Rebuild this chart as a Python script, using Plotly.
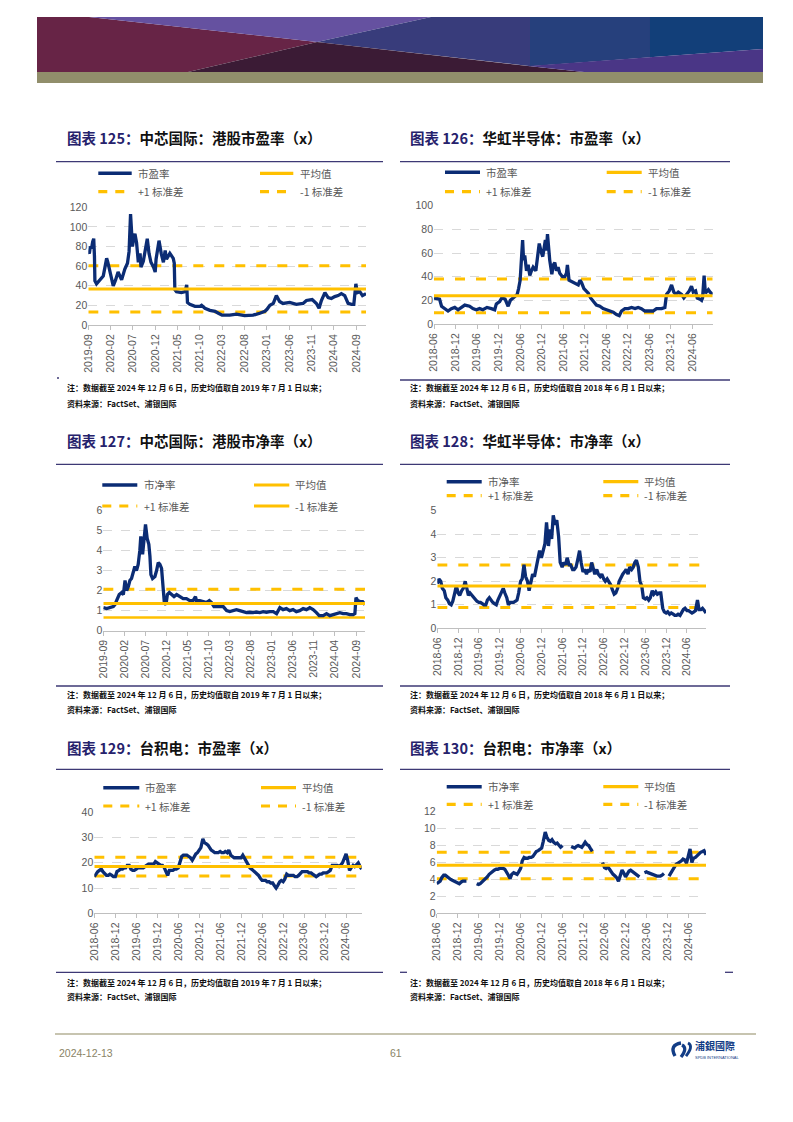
import pandas as pd
import plotly.graph_objects as go

# ---------------- data ----------------
# 图表125 中芯国际 港股市盈率
smic_pe_dates = ["2019-09-01","2019-09-08","2019-09-15","2019-09-23","2019-10-01","2019-10-08","2019-10-13","2019-10-16","2019-10-27","2019-11-19",
 "2019-12-12","2019-12-25","2020-01-04","2020-01-12","2020-01-22","2020-02-07","2020-02-18","2020-03-05","2020-03-22","2020-04-15",
 "2020-05-07","2020-05-25","2020-06-05","2020-06-15","2020-06-22","2020-06-28","2020-07-08","2020-07-15","2020-07-26","2020-08-07",
 "2020-08-19","2020-08-25","2020-09-10","2020-09-22","2020-10-07","2020-10-19","2020-11-01","2020-11-19","2020-11-30","2020-12-06",
 "2020-12-26","2021-01-10","2021-01-25","2021-02-06","2021-02-15","2021-03-10","2021-04-02","2021-04-09","2021-04-13","2021-04-24",
 "2021-05-28","2021-06-21","2021-06-28","2021-07-03","2021-07-08","2021-07-24","2021-08-28",
 "2021-10-01","2021-10-12","2021-11-04","2021-12-08","2022-01-12","2022-02-04","2022-03-01","2022-04-22","2022-06-07","2022-08-01",
 "2022-09-28","2022-11-13","2022-12-18","2023-01-01","2023-01-21","2023-02-13","2023-03-06","2023-03-28","2023-04-20","2023-06-05",
 "2023-07-20","2023-09-04","2023-09-27","2023-11-05","2023-12-04","2023-12-22","2024-01-07","2024-01-31","2024-02-22","2024-03-15",
 "2024-04-07","2024-04-30","2024-05-22","2024-06-14","2024-07-07","2024-07-30","2024-08-15","2024-08-29","2024-09-07","2024-09-25",
 "2024-10-13","2024-11-06"]
smic_pe = [75, 73, 80, 78, 85, 88, 70, 45, 42, 46,
 50, 60, 68, 64, 58, 45, 40, 46, 54, 46,
 57, 63, 75, 113, 85, 80, 90, 93, 84, 64,
 73, 59, 65, 75, 88, 73, 64, 59, 54, 67,
 86, 73, 64, 76, 67, 73, 68, 63, 36, 34,
 33, 34, 38, 41, 23, 21, 19,
 19, 20, 17, 15, 14, 12, 10, 10, 11, 9.5,
 10, 12, 14, 16, 20, 22, 30, 24, 22, 23,
 21, 22, 25, 26, 22, 17, 25, 33, 28, 27,
 29, 30, 32, 30, 22, 21, 21, 42, 33, 34,
 30, 32]
smic_pe_mean, smic_pe_up, smic_pe_dn = 36.7, 60.5, 13.3

# 图表126 华虹半导体 市盈率
hh_pe_dates = ["2018-06-01","2018-07-18","2018-08-04","2018-08-31","2018-09-28","2018-10-26","2018-11-24","2018-12-22","2019-01-20","2019-02-17",
 "2019-03-30","2019-04-27","2019-05-25","2019-06-23","2019-07-21","2019-08-25","2019-10-01","2019-10-29","2019-11-12","2019-12-10",
 "2019-12-28","2020-01-25","2020-02-20","2020-03-10","2020-04-02","2020-05-07","2020-05-19","2020-06-01","2020-06-22","2020-06-30",
 "2020-07-10","2020-07-25","2020-08-08","2020-08-22","2020-09-05","2020-09-19","2020-10-12","2020-11-04","2020-11-10","2020-11-29",
 "2020-12-10","2021-01-01","2021-01-10","2021-01-19","2021-02-07","2021-02-25","2021-03-10","2021-03-22","2021-04-05","2021-04-19",
 "2021-05-03","2021-05-26","2021-06-15","2021-06-29","2021-07-07","2021-07-21","2021-08-10","2021-09-08","2021-10-07","2021-10-21",
 "2021-11-04","2021-11-24","2021-12-16","2021-12-31","2022-01-20","2022-02-11","2022-03-10","2022-04-08","2022-05-06","2022-06-04",
 "2022-07-02","2022-07-31","2022-08-28","2022-09-20","2022-10-09","2022-11-07","2022-12-05","2023-01-03","2023-02-01","2023-02-28",
 "2023-03-27","2023-04-25","2023-05-23","2023-07-04","2023-08-02","2023-09-14","2023-10-12","2023-10-26","2023-11-18","2023-12-08",
 "2023-12-27","2024-01-14","2024-02-03","2024-03-02","2024-03-21","2024-04-13","2024-05-06","2024-05-25","2024-06-09","2024-06-29",
 "2024-07-13","2024-08-05","2024-08-19","2024-08-27","2024-09-09","2024-09-20","2024-10-15","2024-10-29","2024-11-21"]
hh_pe = [22, 21, 15, 13, 11, 13, 14, 12, 14, 16,
 15, 13, 12, 13, 12, 14, 13, 12, 17, 19,
 22, 21, 15, 20, 22, 25, 30, 37, 71, 54,
 58, 45, 50, 41, 45, 48, 45, 62, 68, 60,
 57, 71, 62, 76, 54, 42, 50, 52, 45, 48,
 43, 40, 40, 43, 50, 37, 36, 35, 33, 37,
 35, 30, 28, 26, 22, 19, 16, 15, 13, 12,
 11, 10, 8, 7, 11, 13, 13, 14, 13, 14,
 13, 11, 11, 11, 13, 13, 14, 25, 28, 33,
 27, 25, 27, 25, 22, 25, 28, 32, 27, 28,
 22, 21, 20, 22, 41, 26, 29, 27, 25]
hh_pe_mean, hh_pe_up, hh_pe_dn = 23.9, 38.0, 9.6

# 图表127 中芯国际 港股市净率
smic_pb_dates = ["2019-09-01","2019-09-25","2019-11-12","2019-11-24","2019-12-06","2019-12-25","2020-01-12","2020-01-24","2020-02-05","2020-02-17",
 "2020-02-29","2020-03-11","2020-03-23","2020-04-04","2020-04-16","2020-04-28","2020-05-10","2020-05-22","2020-05-29","2020-06-11",
 "2020-06-23","2020-07-02","2020-07-14","2020-07-26","2020-08-03","2020-08-10","2020-08-22","2020-09-08","2020-09-20","2020-10-02",
 "2020-10-14","2020-10-26","2020-11-08","2020-11-15","2020-11-27","2020-12-07","2020-12-21","2021-01-07","2021-01-24","2021-02-12",
 "2021-03-07","2021-03-31","2021-04-24","2021-05-18","2021-06-11","2021-06-28","2021-07-05","2021-07-29","2021-08-23","2021-09-16",
 "2021-10-06","2021-10-22","2021-11-09","2021-11-28","2021-12-22","2022-01-15","2022-01-27","2022-02-08","2022-03-03","2022-03-27",
 "2022-04-20","2022-05-14","2022-06-07","2022-07-01","2022-07-25","2022-08-18","2022-09-12","2022-10-06","2022-10-30","2022-11-23",
 "2022-12-17","2023-01-11","2023-02-04","2023-02-28","2023-03-23","2023-04-16","2023-05-10","2023-06-03","2023-06-27","2023-07-21",
 "2023-08-15","2023-09-08","2023-10-02","2023-10-26","2023-11-19","2023-12-09","2024-01-07","2024-01-31","2024-02-24","2024-03-19",
 "2024-04-12","2024-05-06","2024-05-30","2024-06-23","2024-07-17","2024-08-11","2024-08-23","2024-08-31","2024-09-12","2024-09-29",
 "2024-10-18","2024-11-04"]
smic_pb = [1.15, 1.1, 1.2, 1.3, 1.5, 1.8, 1.9, 1.8, 2.5, 2.0,
 2.2, 2.5, 2.6, 3.0, 3.2, 3.0, 3.3, 4.0, 4.7, 3.8,
 4.5, 5.3, 4.6, 4.3, 3.7, 2.8, 2.6, 2.7, 3.0, 3.4,
 3.3, 3.1, 2.0, 1.4, 1.3, 1.8, 1.9, 1.8, 1.7, 1.8,
 1.7, 1.6, 1.6, 1.5, 1.5, 1.7, 1.5, 1.5, 1.45, 1.4,
 1.5, 1.4, 1.2, 1.2, 1.2, 1.2, 1.1, 1.0, 0.95, 1.0,
 1.05, 1.0, 0.95, 0.9, 0.92, 0.9, 0.93, 0.9, 0.95, 0.92,
 0.95, 0.95, 0.85, 1.15, 1.05, 1.1, 1.0, 1.05, 0.95, 1.0,
 1.1, 1.05, 1.15, 1.05, 0.9, 0.75, 0.75, 0.85, 0.75, 0.8,
 0.85, 0.9, 0.85, 0.85, 0.8, 0.8, 0.85, 1.65, 1.5, 1.45,
 1.45, 1.3]
smic_pb_mean, smic_pb_up, smic_pb_dn = 1.36, 2.06, 0.66

# semi-monthly series (1st & 15th of each month) starting 2018-06-01
SEMI_START = "2018-06-01"

# 图表128 华虹半导体 市净率
hh_pb = [1.9, 2.1, 2.0, 1.7, 1.6, 1.3, 1.2, 1.05, 1.0, 1.15,
 1.5, 1.8, 1.5, 1.4, 1.6, 1.7, 2.0, 1.6, 1.4, 1.5,
 1.4, 1.3, 1.2, 1.15, 1.1, 1.1, 1.05, 1.0, 1.0, 1.2,
 1.3, 1.2, 1.1, 1.05, 1.0, 1.2, 1.4, 1.5, 1.7, 1.5,
 1.3, 1.0, 1.1, 1.1, 1.1, 1.15, 1.2, 1.5, 2.0, 2.1,
 2.7, 2.2, 2.0, 1.6, 2.1, 2.3, 2.2, 2.6, 3.0, 3.3,
 3.0, 3.3, 3.6, 4.5, 3.5, 4.2, 3.8, 4.8, 4.4, 4.6,
 3.9, 2.8, 2.6, 2.8, 2.7, 3.0, 2.7, 2.7, 2.5, 2.5,
 2.6, 2.9, 3.3, 2.8, 2.4, 2.5, 2.3, 2.5, 2.4, 2.8,
 2.5, 2.3, 2.5, 2.3, 2.2, 2.3, 2.1, 2.0, 2.1, 2.0,
 1.85, 1.65, 1.45, 1.5, 1.7, 2.0, 2.2, 2.3, 2.4, 2.5,
 2.3, 2.6, 2.5, 2.6, 2.8, 2.9, 2.6, 2.0, 1.8, 1.3,
 1.25, 1.3, 1.2, 1.3, 1.6, 1.45, 1.55, 1.45, 1.5, 1.5,
 0.85, 0.7, 0.65, 0.7, 0.6, 0.65, 0.6, 0.55, 0.55, 0.6,
 0.55, 0.7, 0.8, 0.85, 0.75, 0.75, 0.7, 0.65, 0.7, 0.75,
 1.2, 0.8, 0.8, 0.85, 0.75, 0.65]
hh_pb_mean, hh_pb_up, hh_pb_dn = 1.8, 2.69, 0.88

# 图表129 台积电 市盈率
tsmc_pe = [14.5, 15.5, 16.5, 17, 17.5, 16.5, 15.5, 15, 15, 15.5,
 15, 14.5, 14.5, 16.5, 17, 17.5, 17.5, 18, 18, 19,
 19, 17.5, 17, 17, 17.5, 18, 18, 18, 18, 18.5,
 19, 19.5, 19.5, 19.5, 19.5, 20.5, 20, 19.5, 19, 19,
 18, 16.5, 15, 17, 17, 17, 17.5, 17.5, 18, 20,
 22.5, 23, 23, 23, 22.5, 22, 21, 22.5, 23.5, 24,
 25, 26, 29.5, 28, 27.5, 27, 26, 25, 24.5, 24,
 24, 24, 24.5, 24, 24, 24.5, 24, 25, 23, 22.5,
 22, 22, 22, 22, 22, 23, 21.5, 20.5, 19, 18,
 17.5, 17, 16, 15.5, 15, 14, 13, 13, 13, 12.5,
 12.5, 12, 12, 11, 10, 11, 12.5, 13, 12.5, 13.5,
 15.5, 15, 15, 15, 15, 14.5, 14.5, 15, 16, 16.5,
 16.5, 16.5, 16.5, 16, 16, 15.5, 15, 14.5, 15, 15.5,
 15.5, 16, 16, 16, 16.5, 17, 19, 19, 19, 19,
 18.5, 19, 20, 21.5, 23.5, 21, 17, 18, 19, 18.5,
 19.5, 20, 18.5, 17.5]
tsmc_pe_mean, tsmc_pe_up, tsmc_pe_dn = 18.5, 22.2, 14.8

# 图表130 台积电 市净率 (None = no data)
tsmc_pb = [3.5, 3.6, 3.8, 4.2, 4.5, 4.5, 4.3, 4.1, 4.0, 3.9,
 3.8, 3.7, 3.6, 3.5, 3.7, 3.8, 3.8, 3.8, None, None,
 None, None, None, 3.5, 3.4, 3.5, 3.7, 3.9, 4.0, 4.3,
 4.6, 4.8, 5.0, 5.1, 5.2, 5.2, 5.3, 5.3, 5.3, 5.2,
 4.9, 4.5, 4.1, 4.6, 4.8, 4.7, 4.6, 4.9, 5.3, 6.2,
 6.6, 6.5, 6.5, 6.6, 6.6, 6.7, 7.0, 7.3, 7.4, 7.5,
 7.7, 8.5, 9.6, 9.0, 8.6, 8.5, 8.7, 8.4, 8.2, 8.3,
 8.0, 7.8, 8.0, None, None, None, None, 7.9, 7.8, 7.7,
 7.9, 8.0, 7.9, 7.8, 8.1, 8.4, 8.1, 8.0, 7.6, 7.3,
 None, None, None, None, None, 6.0, 5.4, 5.3, 5.5, 5.2,
 4.8, 4.6, 4.4, 4.2, 3.8, 4.5, 5.1, 4.8, 4.3, 4.6,
 5.0, 5.1, 4.9, 4.8, 4.6, 4.5, 4.3, None, None, 4.8,
 4.9, 4.8, 4.7, 4.6, 4.5, 4.5, 4.4, 4.4, 4.4, 4.5,
 4.7, None, None, 4.4, 4.8, 5.1, 5.5, 5.8, 5.9, 6.0,
 6.2, 6.4, 6.3, 5.9, 6.8, 7.6, 6.0, 6.5, 6.6, 6.8,
 7.0, 7.2, 7.3, 7.4, 6.9]
tsmc_pb_mean, tsmc_pb_up, tsmc_pb_dn = 5.67, 7.2, 4.09

ticks_a = ["2019-09","2020-02","2020-07","2020-12","2021-05","2021-10","2022-03",
           "2022-08","2023-01","2023-06","2023-11","2024-04","2024-09"]
ticks_b = ["2018-06","2018-12","2019-06","2019-12","2020-06","2020-12","2021-06",
           "2021-12","2022-06","2022-12","2023-06","2023-12","2024-06"]

note_2019 = "注：数据截至 2024 年 12 月 6 日，历史均值取自 2019 年 7 月 1 日以来；"
note_2018 = "注：数据截至 2024 年 12 月 6 日，历史均值取自 2018 年 6 月 1 日以来；"
source_txt = "资料来源：FactSet、浦银国际"

def semi(vals):
    return pd.date_range(SEMI_START, periods=len(vals), freq="SMS")

# ---------------- styling ----------------
W, H = 793, 1122
OFF = 8  # page body margin of the generated html
def X(px): return (px - OFF) / W
def Y(py): return 1 - (py - OFF) / H

NAVY = "#0b2c74"
GOLD = "#FFC000"
GRID = "#d9d9d9"
TICKC = "#595959"
RULE = "#3d3875"
CJK = "Noto Sans CJK SC"
LAT = "Liberation Sans"

charts = [
    dict(x=pd.to_datetime(smic_pe_dates), y=smic_pe, m=smic_pe_mean, u=smic_pe_up, d=smic_pe_dn, dsolid=False,
         px=(88.3, 366), py=(325, 207.3), ymax=120, dt=20, ticks=ticks_a,
         num="125", title="中芯国际：港股市盈率（x）", name="市盈率", tx=65, ty=137.5,
         rule=(56, 383, 161.7), leg=(173.3, 191.7, (98.3, 131.7, 136), (260, 293.3, 298.3)),
         note=note_2019, ny=(387, 403), nx=65),
    dict(x=pd.to_datetime(hh_pe_dates), y=hh_pe, m=hh_pe_mean, u=hh_pe_up, d=hh_pe_dn, dsolid=False,
         px=(434, 712.7), py=(324, 205.7), ymax=100, dt=20, ticks=ticks_b,
         num="126", title="华虹半导体：市盈率（x）", name="市盈率", tx=408, ty=138,
         rule=(400, 730, 161.7), leg=(172.3, 191.7, (445, 480, 484), (606.7, 641.7, 646)),
         note=note_2018, ny=(387, 403), nx=408),
    dict(x=pd.to_datetime(smic_pb_dates), y=smic_pb, m=smic_pb_mean, u=smic_pb_up, d=smic_pb_dn, dsolid=True,
         px=(103.3, 365), py=(630.7, 510.3), ymax=6, dt=1, ticks=ticks_a,
         num="127", title="中芯国际：港股市净率（x）", name="市净率", tx=65, ty=440.5,
         rule=(56, 383, 464.3), leg=(485, 506, (102.3, 137.3, 141.7), (254, 289.3, 293.3)),
         note=note_2019, ny=(694.3, 709.3), nx=65),
    dict(x=semi(hh_pb), y=hh_pb, m=hh_pb_mean, u=hh_pb_up, d=hh_pb_dn, dsolid=False,
         px=(437.3, 706), py=(628.3, 510.7), ymax=5, dt=1, ticks=ticks_b,
         num="128", title="华虹半导体：市净率（x）", name="市净率", tx=408, ty=440.5,
         rule=(400, 730, 464.3), leg=(481.7, 495.7, (446.7, 481.7, 486), (603.3, 638.3, 642.3)),
         note=note_2018, ny=(694.3, 709.3), nx=408),
    dict(x=semi(tsmc_pe), y=tsmc_pe, m=tsmc_pe_mean, u=tsmc_pe_up, d=tsmc_pe_dn, dsolid=False,
         px=(94.3, 361.7), py=(913.3, 812.3), ymax=40, dt=10, ticks=ticks_b,
         num="129", title="台积电：市盈率（x）", name="市盈率", tx=65, ty=747.7,
         rule=(56, 383, 769.3), leg=(787.7, 806, (103.3, 139.3, 143.3), (261, 296, 300)),
         note=note_2019, ny=(982, 996.7), nx=65),
    dict(x=semi(tsmc_pb), y=tsmc_pb, m=tsmc_pb_mean, u=tsmc_pb_up, d=tsmc_pb_dn, dsolid=False,
         px=(436.7, 706), py=(913.3, 811.7), ymax=12, dt=2, ticks=ticks_b,
         num="130", title="台积电：市净率（x）", name="市净率", tx=408, ty=747.7,
         rule=(400, 730, 769.3), leg=(786.7, 804.3, (446.7, 481.7, 486), (603.3, 638.3, 642.3)),
         note=note_2018, ny=(982, 996.7), nx=408),
]

fig = go.Figure()
shapes, annos = [], []
DASH = "10px,11px"
LDASH = "9px,8px"

def pline(x0, y0, x1, y1, color, width, dash="solid"):
    shapes.append(dict(type="line", xref="paper", yref="paper", x0=X(x0), y0=Y(y0), x1=X(x1), y1=Y(y1),
                       line=dict(color=color, width=width, dash=dash), layer="above"))

def ptext(x, y, text, size, color, family=CJK, xanchor="left", bold=False):
    annos.append(dict(xref="paper", yref="paper", x=X(x), y=Y(y), text=text, showarrow=False,
                      xanchor=xanchor, yanchor="middle",
                      font=dict(family=family, size=size, color=color, weight="bold" if bold else "normal")))

layout_axes = {}
for i, c in enumerate(charts, start=1):
    xa = "x" if i == 1 else f"x{i}"
    ya = "y" if i == 1 else f"y{i}"
    d0, d1 = c["x"][0], c["x"][-1]
    fig.add_trace(go.Scatter(x=[d0, d1], y=[c["u"], c["u"]], mode="lines", xaxis=xa, yaxis=ya,
                             line=dict(color=GOLD, width=3, dash=DASH), showlegend=False, hoverinfo="skip"))
    fig.add_trace(go.Scatter(x=[d0, d1], y=[c["d"], c["d"]], mode="lines", xaxis=xa, yaxis=ya,
                             line=dict(color=GOLD, width=2.6 if c["dsolid"] else 3,
                                       dash="solid" if c["dsolid"] else DASH), showlegend=False, hoverinfo="skip"))
    fig.add_trace(go.Scatter(x=c["x"], y=c["y"], mode="lines", xaxis=xa, yaxis=ya, connectgaps=False,
                             line=dict(color=NAVY, width=3.3), showlegend=False, hoverinfo="skip"))
    fig.add_trace(go.Scatter(x=[d0, d1], y=[c["m"], c["m"]], mode="lines", xaxis=xa, yaxis=ya,
                             line=dict(color=GOLD, width=3), showlegend=False, hoverinfo="skip"))

    tickvals = pd.to_datetime([t + "-01" for t in c["ticks"]])
    layout_axes["xaxis" if i == 1 else f"xaxis{i}"] = dict(
        domain=[X(c["px"][0]), X(c["px"][1])], anchor=ya, type="date", range=[d0, d1],
        showgrid=False, showline=True, linecolor="#bfbfbf", linewidth=1,
        ticks="outside", ticklen=4, tickcolor="#bfbfbf", tickangle=-90, automargin=False,
        tickvals=tickvals, ticktext=c["ticks"],
        tickfont=dict(family=LAT, size=10.5, color=TICKC), fixedrange=True)
    layout_axes["yaxis" if i == 1 else f"yaxis{i}"] = dict(
        domain=[Y(c["py"][0]), Y(c["py"][1])], anchor=xa, range=[0, c["ymax"]], dtick=c["dt"],
        showgrid=True, gridcolor=GRID, griddash="dash", gridwidth=1, zeroline=False, showline=False,
        ticks="", automargin=False, tickfont=dict(family=LAT, size=10.5, color=TICKC), fixedrange=True)

    # title
    ptext(c["tx"], c["ty"], f"<span style='color:#26226c'>图表 {c['num']}：</span>{c['title']}", 14.5, "#111111", bold=True)
    rx0, rx1, ry = c["rule"]
    pline(rx0, ry, rx1, ry, RULE, 1.3)
    # legend
    r1, r2, c1, c2 = c["leg"]
    pline(c1[0], r1, c1[1], r1, NAVY, 3.5)
    ptext(c1[2], r1, c["name"], 10.5, TICKC)
    pline(c2[0], r1, c2[1], r1, GOLD, 3.2)
    ptext(c2[2], r1, "平均值", 10.5, TICKC)
    pline(c1[0], r2, c1[1], r2, GOLD, 3.2, LDASH)
    ptext(c1[2], r2, "+1 标准差", 10.5, TICKC)
    pline(c2[0], r2, c2[1], r2, GOLD, 3.2 if not c["dsolid"] else 2.8, "solid" if c["dsolid"] else LDASH)
    ptext(c2[2], r2, "-1 标准差", 10.5, TICKC)
    # notes
    ptext(c["nx"], c["ny"][0], c["note"], 8, "#111111", bold=True)
    ptext(c["nx"], c["ny"][1], source_txt, 8, "#111111", bold=True)

# bottom rules under charts
pline(400, 380, 730, 380, RULE, 1.3)
pline(56, 686, 383, 686, RULE, 1.3)
pline(400, 686, 730, 686, RULE, 1.3)
pline(56, 972.3, 383, 972.3, RULE, 1.3)
pline(400, 972.3, 407, 972.3, RULE, 1.3)
pline(725, 972.3, 733, 972.3, RULE, 1.3)
pline(57, 378, 59, 378, RULE, 1.3)

# ---------------- header banner ----------------
def poly(pts, color):
    path = "M " + " L ".join(f"{X(a):.5f},{Y(b):.5f}" for a, b in pts) + " Z"
    shapes.append(dict(type="path", xref="paper", yref="paper", path=path,
                       fillcolor=color, line=dict(width=0), layer="below"))

poly([(37, 17), (89, 17), (317, 42), (188, 72), (37, 72)], "#672446")
poly([(89, 17), (431, 17), (317, 42)], "#6551a0")
poly([(431, 17), (531, 17), (531, 66.2), (317, 42)], "#383c7b")
poly([(530, 17), (651, 17), (651, 57.2), (530, 66.2)], "#26407c")
poly([(650, 17), (763, 17), (763, 49), (650, 57.2)], "#123f79")
poly([(317, 42), (528, 66), (584, 72), (188, 72)], "#3b1b35")
poly([(528, 66), (763, 49), (763, 72), (584, 72)], "#4a3686")
poly([(37, 72), (763, 72), (763, 83), (37, 83)], "#918e6b")

# ---------------- footer ----------------
pline(55, 1034, 756, 1034, "#8f8a62", 1.2)
ptext(57, 1052.5, "2024-12-13", 10.5, "#8a8466", family=LAT)
ptext(396, 1052.5, "61", 10.5, "#8a8466", family=LAT, xanchor="center")
shapes.append(dict(type="path", xref="paper", yref="paper",
                   path=f"M {X(675):.5f},{Y(1056):.5f} Q {X(669):.5f},{Y(1045):.5f} {X(681):.5f},{Y(1043):.5f}",
                   line=dict(color="#123d86", width=3.4)))
shapes.append(dict(type="path", xref="paper", yref="paper",
                   path=f"M {X(681):.5f},{Y(1057):.5f} Q {X(688):.5f},{Y(1048):.5f} {X(682):.5f},{Y(1045):.5f}",
                   line=dict(color="#123d86", width=3.2)))
shapes.append(dict(type="path", xref="paper", yref="paper",
                   path=f"M {X(686):.5f},{Y(1056):.5f} Q {X(694):.5f},{Y(1046):.5f} {X(688):.5f},{Y(1043):.5f}",
                   line=dict(color="#123d86", width=2.8)))
ptext(693, 1045, "浦銀國際", 10, "#123d86", bold=True)
ptext(693, 1057.5, "SPDB INTERNATIONAL", 4, "#123d86", family=LAT)

fig.update_layout(width=W, height=H, margin=dict(l=0, r=0, t=0, b=0, pad=0, autoexpand=False),
                  paper_bgcolor="white", plot_bgcolor="white", showlegend=False,
                  font=dict(family=LAT), shapes=shapes, annotations=annos, **layout_axes)

fig.write_html("out.html")
